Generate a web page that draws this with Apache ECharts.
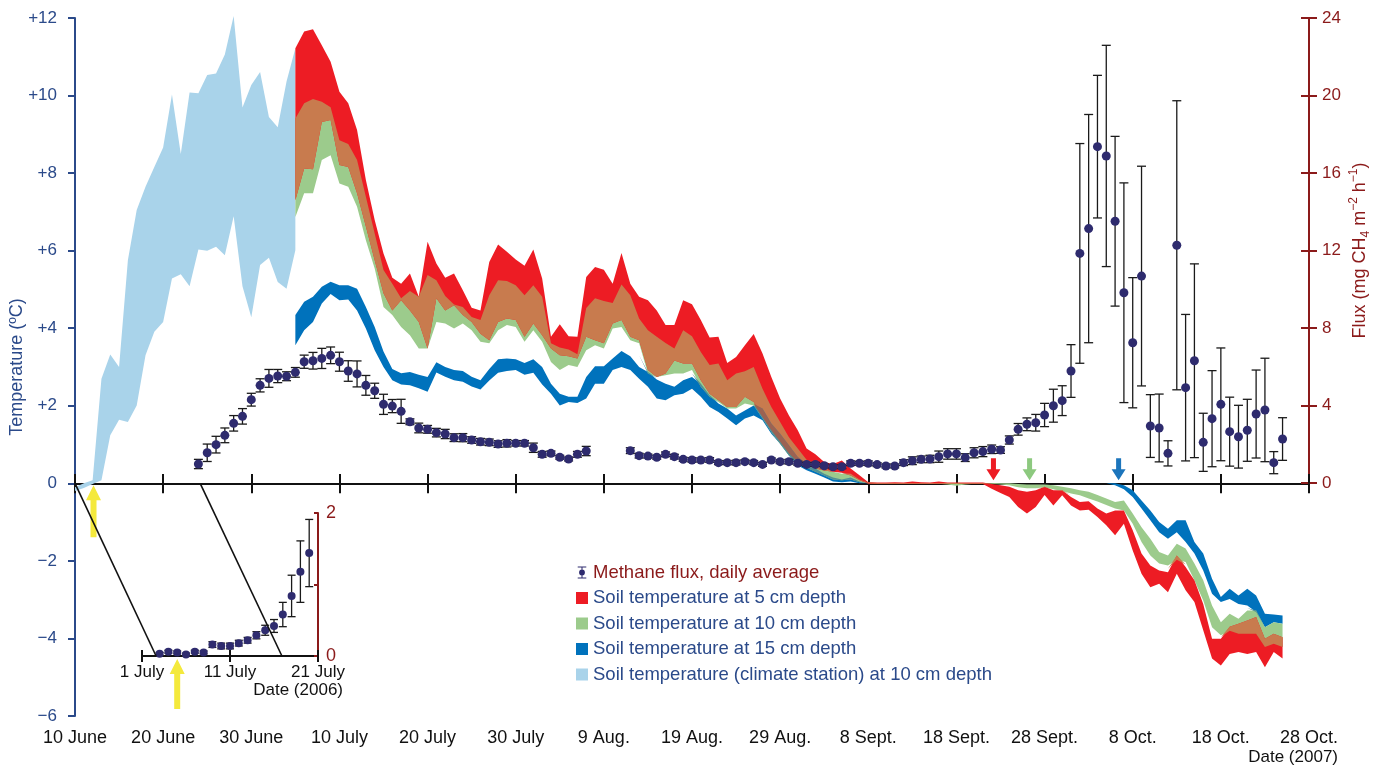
<!DOCTYPE html>
<html>
<head>
<meta charset="utf-8">
<script src="https://cdn.jsdelivr.net/npm/echarts@6/dist/echarts.min.js"></script>
<style>
  html, body { margin: 0; padding: 0; background: #fff; }
  #main { width: 1373px; height: 768px; }
</style>
</head>
<body>
<div id="main"></div>
<script>
// days counted from 10 June 2007
var xTickLabels = ['10 June', '20 June', '30 June', '10 July', '20 July', '30 July', '9 Aug.', '19 Aug.',
  '29 Aug.', '8 Sept.', '18 Sept.', '28 Sept.', '8 Oct.', '18 Oct.', '28 Oct.']

// climate station, 10 cm (days 0..25)
var climateStart = 0
var climateLo = [-0.2, -0.12, -0.02, 0.08, 1.24, 1.64, 1.58, 2.01, 3.30, 3.91, 4.16, 5.28, 5.39, 5.08, 6.03, 6.00,
  6.10, 5.88, 6.89, 5.08, 4.28, 5.63, 5.82, 5.19, 5.02, 6.01]
var climateHi = [-0.1, 0.0, 0.08, 2.70, 3.32, 3.00, 5.75, 7.05, 7.65, 8.16, 8.66, 10.03, 8.49, 10.08, 10.06, 10.53,
  10.57, 11.06, 12.05, 9.69, 10.27, 10.61, 9.45, 9.18, 10.36, 11.22]

// soil temperature bands (days 25..137)
var bandStart = 25
var red5Hi = [11.22, 11.65, 11.71, 11.30, 10.87, 10.10, 9.80, 9.11, 7.82, 6.79,
  5.93, 5.30, 5.15, 5.41, 4.81, 6.23, 5.67, 5.30, 5.41, 4.98,
  4.53, 4.46, 5.71, 6.16, 5.97, 5.77, 5.61, 6.03, 5.28, 3.78,
  4.10, 3.79, 3.78, 5.32, 5.58, 5.51, 5.15, 5.94, 5.15, 4.81,
  4.72, 4.46, 4.08, 4.08, 4.72, 4.62, 4.21, 3.76, 3.78, 3.10,
  3.26, 3.56, 3.85, 3.35, 2.74, 2.19, 1.75, 1.37, 0.90, 0.75,
  0.55, 0.50, 0.59, 0.38, 0.21, 0.03, 0.02, 0.02, 0.03, 0.02,
  0.05, 0.03, 0.02, 0.05, 0.02, 0.02, 0.02, 0.02, 0.02, -0.02,
  -0.05, -0.09, -0.18, -0.22, -0.18, -0.09, -0.18, -0.18, -0.35, -0.48,
  -0.46, -0.65, -0.78, -0.70, -0.70, -1.21, -1.81, -2.12, -2.25, -2.29,
  -1.86, -2.16, -2.50, -3.11, -4.01, -4.01, -3.70, -3.62, -3.54, -3.45,
  -4.01, -3.88, -3.97]
var red5Lo = [7.30, 8.12, 8.10, 9.32, 9.37, 8.21, 8.16, 7.48, 6.62, 5.75,
  4.90, 4.46, 4.72, 4.46, 4.16, 3.48, 4.77, 4.46, 4.59, 4.34,
  4.16, 3.86, 3.69, 4.16, 4.25, 4.21, 3.78, 4.12, 3.82, 3.48,
  3.30, 3.28, 3.22, 3.78, 3.69, 3.61, 4.12, 4.21, 3.78, 3.69,
  2.92, 2.74, 2.83, 3.17, 3.09, 3.09, 2.66, 2.31, 2.14, 1.97,
  1.97, 2.23, 2.10, 1.71, 1.37, 1.07, 0.77, 0.55, 0.46, 0.38,
  0.33, 0.30, 0.27, 0.20, 0.08, -0.01, -0.02, -0.02, -0.02, -0.02,
  -0.02, -0.02, -0.02, -0.02, -0.02, -0.02, -0.02, -0.02, -0.02, -0.14,
  -0.25, -0.35, -0.61, -0.78, -0.61, -0.30, -0.57, -0.31, -0.57, -0.70,
  -0.68, -0.87, -1.08, -1.34, -1.04, -1.73, -2.33, -2.68, -2.59, -2.81,
  -2.33, -2.76, -3.06, -3.79, -4.52, -4.70, -4.40, -4.35, -4.40, -4.35,
  -4.74, -4.35, -4.52]
var green10Hi = [9.41, 9.80, 9.91, 9.84, 9.70, 8.85, 8.75, 8.34, 7.39, 6.44,
  5.50, 5.15, 4.77, 4.96, 4.81, 5.37, 5.24, 4.83, 4.61, 4.55,
  4.29, 4.21, 4.85, 5.24, 5.22, 5.11, 4.85, 5.11, 4.81, 3.61,
  3.50, 3.45, 3.33, 4.52, 4.77, 4.70, 4.65, 5.13, 4.85, 4.25,
  3.95, 3.78, 3.62, 3.48, 3.95, 3.79, 3.39, 3.05, 3.09, 2.66,
  2.83, 2.89, 3.00, 2.44, 1.97, 1.58, 1.19, 0.90, 0.61, 0.51,
  0.40, 0.30, 0.25, 0.25, 0.10, 0.02, 0.01, 0.01, 0.01, 0.01,
  0.01, 0.01, 0.01, 0.01, 0.01, 0.01, 0.0, 0.01, 0.01, 0.01,
  0.0, 0.0, -0.02, -0.03, -0.03, -0.03, -0.05, -0.09, -0.13, -0.18,
  -0.22, -0.30, -0.39, -0.48, -0.44, -0.78, -1.13, -1.43, -1.77, -1.86,
  -1.56, -1.68, -2.07, -2.50, -3.15, -3.58, -3.36, -3.49, -3.28, -3.28,
  -3.71, -3.58, -3.62]
var green10Lo = [6.87, 7.48, 7.48, 8.34, 8.46, 7.73, 7.65, 7.13, 6.27, 5.54,
  4.55, 4.34, 4.03, 3.82, 3.48, 3.48, 4.16, 4.12, 3.99, 4.12,
  3.95, 3.65, 3.61, 3.95, 4.08, 4.03, 3.65, 3.95, 3.65, 3.13,
  2.92, 3.05, 3.00, 3.43, 3.56, 3.48, 3.99, 4.03, 3.69, 3.61,
  2.83, 2.74, 2.79, 2.83, 2.83, 2.92, 2.49, 2.23, 2.10, 1.93,
  1.93, 2.06, 2.01, 1.67, 1.32, 1.02, 0.72, 0.51, 0.40, 0.30,
  0.20, 0.10, 0.08, 0.10, 0.03, 0.0, -0.01, -0.01, -0.01, -0.01,
  -0.01, -0.01, -0.01, -0.01, -0.03, -0.06, -0.03, -0.01, -0.01, -0.01,
  -0.03, -0.05, -0.10, -0.13, -0.13, -0.10, -0.15, -0.20, -0.26, -0.31,
  -0.39, -0.47, -0.56, -0.65, -0.70, -1.04, -1.51, -1.86, -2.07, -2.12,
  -1.97, -2.03, -2.50, -3.02, -3.71, -3.92, -3.80, -3.88, -3.88, -3.88,
  -4.22, -4.14, -4.22]
var blue15Hi = [4.34, 4.68, 4.81, 5.07, 5.20, 5.11, 5.11, 5.02, 4.55, 4.03,
  3.40, 2.95, 2.84, 2.87, 2.80, 2.74, 3.12, 3.00, 2.92, 2.90,
  2.75, 2.66, 2.95, 3.20, 3.22, 3.20, 3.10, 3.20, 3.00, 2.57,
  2.31, 2.23, 2.23, 2.74, 3.02, 3.02, 3.22, 3.41, 3.28, 3.00,
  2.87, 2.68, 2.57, 2.49, 2.66, 2.74, 2.57, 2.27, 2.06, 1.93,
  1.75, 1.88, 2.01, 1.93, 1.54, 1.28, 0.98, 0.68, 0.51, 0.38,
  0.25, 0.15, 0.10, 0.15, 0.05, 0, 0, 0, 0, 0,
  0, 0, 0, 0, 0, 0, 0, 0, 0, 0,
  0, 0, 0, 0, 0, 0, 0, 0, 0, 0,
  0, 0, 0, 0, -0.05, -0.18, -0.44, -0.70, -1.00, -1.17,
  -0.95, -0.95, -1.51, -1.81, -2.46, -2.93, -2.72, -2.89, -2.72, -2.89,
  -3.36, -3.38, -3.41]
var blue15Lo = [3.56, 3.95, 4.16, 4.64, 4.88, 4.72, 4.74, 4.46, 3.99, 3.43,
  3.00, 2.66, 2.55, 2.53, 2.45, 2.36, 2.86, 2.75, 2.66, 2.62,
  2.50, 2.42, 2.65, 2.85, 2.90, 2.92, 2.80, 2.85, 2.55, 2.31,
  2.01, 2.10, 2.07, 2.19, 2.57, 2.57, 2.92, 3.00, 2.92, 2.70,
  2.49, 2.19, 2.14, 2.27, 2.31, 2.44, 2.23, 1.97, 1.84, 1.67,
  1.50, 1.67, 1.75, 1.63, 1.28, 1.02, 0.72, 0.46, 0.34, 0.25,
  0.15, 0.05, 0.03, 0.05, 0.0, 0, 0, 0, 0, 0,
  0, 0, 0, 0, 0, 0, 0, 0, 0, 0,
  0, 0, 0, 0, 0, 0, 0, 0, 0, 0,
  0, 0, 0, -0.05, -0.15, -0.35, -0.65, -0.95, -1.26, -1.43,
  -1.26, -1.51, -1.81, -2.25, -2.85, -3.06, -2.98, -3.11, -3.15, -3.32,
  -3.71, -3.58, -3.62]

// methane flux, daily average and error (days 14..137), mg CH4 m-2 h-1
var fluxStart = 14
var fluxValues = [0.98, 1.56, 1.98, 2.46, 3.08, 3.44, 4.30, 5.04, 5.40, 5.52,
  5.51, 5.71, 6.26, 6.31, 6.43, 6.59, 6.26, 5.78, 5.63, 5.04,
  4.76, 4.06, 3.97, 3.70, 3.16, 2.84, 2.77, 2.60, 2.53, 2.34,
  2.34, 2.22, 2.13, 2.10, 2.01, 2.05, 2.05, 2.05, 1.82, 1.48,
  1.53, 1.33, 1.24, 1.48, 1.65, null, null, null, null, 1.67,
  1.41, 1.39, 1.33, 1.48, 1.36, 1.22, 1.19, 1.19, 1.19, 1.05,
  1.05, 1.05, 1.10, 1.05, 0.96, 1.19, 1.10, 1.10, 1.02, 0.96,
  0.96, 0.89, 0.84, 0.84, 1.02, 1.02, 1.02, 0.95, 0.88, 0.88,
  1.05, 1.15, 1.22, 1.24, 1.36, 1.50, 1.50, 1.31, 1.56, 1.62,
  1.74, 1.70, 2.22, 2.77, 3.03, 3.11, 3.51, 3.99, 4.25, 5.78,
  11.85, 13.13, 17.36, 16.88, 13.51, 9.82, 7.24, 10.68, 2.94, 2.84,
  1.53, 12.27, 4.92, 6.31, 2.10, 3.32, 4.06, 2.65, 2.39, 2.72,
  3.56, 3.77, 1.05, 2.27]
var fluxErr = [0.24, 0.45, 0.43, 0.38, 0.40, 0.40, 0.33, 0.34, 0.46, 0.34,
  0.23, 0.25, 0.34, 0.43, 0.52, 0.43, 0.49, 0.53, 0.67, 0.51,
  0.39, 0.52, 0.34, 0.62, 0.15, 0.25, 0.20, 0.22, 0.24, 0.20,
  0.21, 0.17, 0.17, 0.17, 0.17, 0.19, 0.14, 0.14, 0.24, 0.15,
  0.12, 0.10, 0.10, 0.15, 0.24, null, null, null, null, 0.15,
  0.12, 0.10, 0.10, 0.12, 0.12, 0.10, 0.12, 0.10, 0.12, 0.10,
  0.10, 0.12, 0.10, 0.10, 0.10, 0.10, 0.10, 0.12, 0.10, 0.10,
  0.10, 0.10, 0.10, 0.10, 0.12, 0.10, 0.12, 0.10, 0.10, 0.10,
  0.15, 0.20, 0.17, 0.19, 0.29, 0.27, 0.27, 0.20, 0.26, 0.26,
  0.22, 0.17, 0.21, 0.30, 0.33, 0.43, 0.60, 0.85, 0.77, 1.36,
  5.67, 5.89, 3.68, 5.71, 4.38, 5.67, 3.36, 5.67, 1.62, 1.75,
  0.65, 7.46, 3.78, 5.00, 1.50, 2.48, 2.91, 1.78, 1.62, 1.60,
  2.27, 2.67, 0.57, 1.10]

// inset: 2006, days counted from 1 July
var insetTickLabels = ['1 July', '11 July', '21 July']
var insetStart = 2
var insetFlux = [0.03, 0.06, 0.05, 0.02, 0.06, 0.05, 0.16, 0.14, 0.14, 0.18, 0.22, 0.29, 0.36, 0.42, 0.58, 0.84, 1.18, 1.44]
var insetErr = [0.02, 0.02, 0.02, 0.02, 0.02, 0.02, 0.04, 0.04, 0.04, 0.04, 0.04, 0.05, 0.07, 0.09, 0.17, 0.29, 0.43, 0.47]

// arrows (thaw / freeze markers)
var yellowArrowDay = 2.1
var insetArrowDay = 4
var freezeArrowDays = [104.2, 108.3, 118.4]
// connector lines main <-> inset
var linkMainDays = [0, 14.2]
var linkInsetDays = [1.6, 15.9]

var BLUE_TXT = '#2b4a8a'
var DARK_RED = '#8b1a1a'
var FONT = '"Liberation Sans", Arial, sans-serif'
var C_RED = '#ed1c24', C_GREEN = '#9ccb8c', C_BLUE = '#0072bc', C_LIGHT = '#a9d3ea'
var C_BROWN = '#c87b4e', C_RB = '#9c6252', C_GB = '#4f9096'
var DOT = '#2e2b6e'
var freezeColors = [C_RED, '#8dc97f', '#1c75bc']

function overlap(loA, hiA, loB, hiB) {
  var lo = [], hi = []
  for (var i = 0; i < loA.length; i++) {
    var l = Math.max(loA[i], loB[i]), h = Math.min(hiA[i], hiB[i])
    if (h < l) { l = h = (l + h) / 2 }
    lo.push(l); hi.push(h)
  }
  return { lo: lo, hi: hi }
}

function band(name, start, lo, hi, color, z) {
  return {
    type: 'custom', name: name, xAxisIndex: 0, yAxisIndex: 0, z: z, silent: true,
    itemStyle: { color: color },
    data: lo.map(function (v, i) { return [start + i, v, hi[i]] }),
    encode: { x: 0, y: [1, 2] },
    renderItem: function (params, api) {
      if (params.dataIndex !== 0) return null
      var pts = []
      for (var i = 0; i < hi.length; i++) pts.push(api.coord([start + i, hi[i]]))
      for (var j = lo.length - 1; j >= 0; j--) pts.push(api.coord([start + j, lo[j]]))
      return { type: 'polygon', shape: { points: pts }, style: { fill: color } }
    }
  }
}

function errorBars(xi, yi, start, vals, errs, cap) {
  var data = []
  vals.forEach(function (v, i) { if (v != null) data.push([start + i, v, errs[i]]) })
  return {
    type: 'custom', xAxisIndex: xi, yAxisIndex: yi, z: 4, silent: true,
    data: data,
    encode: { x: 0, y: 1 },
    renderItem: function (params, api) {
      var x = api.value(0), v = api.value(1), e = api.value(2)
      var t = api.coord([x, v + e]), b = api.coord([x, v - e])
      var st = { stroke: '#1a1a1a', lineWidth: 1.3 }
      return {
        type: 'group', children: [
          { type: 'line', shape: { x1: t[0], y1: t[1], x2: b[0], y2: b[1] }, style: st },
          { type: 'line', shape: { x1: t[0] - cap, y1: t[1], x2: t[0] + cap, y2: t[1] }, style: st },
          { type: 'line', shape: { x1: b[0] - cap, y1: b[1], x2: b[0] + cap, y2: b[1] }, style: st }
        ]
      }
    }
  }
}

function dots(name, xi, yi, start, vals, size) {
  var data = []
  vals.forEach(function (v, i) { if (v != null) data.push([start + i, v]) })
  return {
    type: 'scatter', name: name, xAxisIndex: xi, yAxisIndex: yi, z: 5, silent: true,
    symbolSize: size, itemStyle: { color: DOT, opacity: 1 }, data: data
  }
}

// arrow: tip at data point, dir -1 = points up (tail below), 1 = points down (tail above)
function arrows(xi, yi, days, colors, dir, offset, len, hw, hl, sw) {
  return {
    type: 'custom', xAxisIndex: xi, yAxisIndex: yi, z: 6, silent: true,
    data: days.map(function (d, i) { return [d, 0, i] }),
    encode: { x: 0, y: 1 },
    renderItem: function (params, api) {
      var p = api.coord([api.value(0), api.value(1)])
      var x = p[0], y = p[1] + offset
      var s = -dir
      var pts = [[x, y], [x + hw / 2, y + s * hl], [x + sw / 2, y + s * hl], [x + sw / 2, y + s * len],
        [x - sw / 2, y + s * len], [x - sw / 2, y + s * hl], [x - hw / 2, y + s * hl]]
      return { type: 'polygon', shape: { points: pts }, style: { fill: colors[api.value(2)] } }
    }
  }
}

var rg = overlap(red5Lo, red5Hi, green10Lo, green10Hi)
var gb = overlap(green10Lo, green10Hi, blue15Lo, blue15Hi)
var rb = overlap(red5Lo, red5Hi, blue15Lo, blue15Hi)

var chart = echarts.init(document.getElementById('main'))

var methaneIcon = 'path://M0,0H10V1.2H0Z M4.4,1.2H5.6V12.8H4.4Z M0,12.8H10V14H0Z M5,3.6A3.4,3.4 0 1 1 4.99,3.6Z'

var option = {
  animation: false,
  backgroundColor: '#fff',
  textStyle: { fontFamily: FONT },
  grid: [
    { left: 75, right: 64, top: 18, bottom: 52, containLabel: false, outerBoundsMode: 'none' },
    { left: 75, right: 64, top: 18, bottom: 285, containLabel: false, outerBoundsMode: 'none' },
    { left: 142, right: 1055, top: 513, bottom: 112, containLabel: false, outerBoundsMode: 'none' }
  ],
  xAxis: [
    { gridIndex: 0, type: 'value', min: 0, max: 140, interval: 10, position: 'bottom',
      axisLine: { onZero: true, lineStyle: { color: '#111', width: 2 } },
      axisTick: { inside: false, length: 10, lineStyle: { color: '#111', width: 2 } },
      axisLabel: { show: false }, splitLine: { show: false } },
    { gridIndex: 0, type: 'value', min: 0, max: 140, interval: 10, position: 'bottom',
      axisLine: { show: false, onZero: false }, axisTick: { show: false }, splitLine: { show: false },
      axisLabel: { margin: 13, fontSize: 18, color: '#111', fontFamily: FONT,
        formatter: function (v) { return xTickLabels[Math.round(v / 10)] } } },
    { gridIndex: 1, type: 'value', min: 0, max: 140, interval: 10, position: 'bottom',
      axisLine: { show: false, onZero: false },
      axisTick: { inside: true, length: 9, lineStyle: { color: '#111', width: 2 } },
      axisLabel: { show: false }, splitLine: { show: false } },
    { gridIndex: 2, type: 'value', min: 0, max: 20, interval: 10, position: 'bottom',
      axisLine: { onZero: false, lineStyle: { color: '#111', width: 2 } },
      axisTick: { length: 6, lineStyle: { color: '#111', width: 2 } },
      axisLabel: { margin: 8, fontSize: 17, color: '#111', fontFamily: FONT,
        formatter: function (v) { return insetTickLabels[Math.round(v / 10)] } },
      splitLine: { show: false } },
    { gridIndex: 2, type: 'value', min: 0, max: 20, interval: 10, position: 'bottom',
      axisLine: { show: false, onZero: false },
      axisTick: { inside: true, length: 6, lineStyle: { color: '#111', width: 2 } },
      axisLabel: { show: false }, splitLine: { show: false } }
  ],
  yAxis: [
    { gridIndex: 0, type: 'value', min: -6, max: 12, interval: 2, position: 'left',
      name: 'Temperature (ºC)', nameLocation: 'middle', nameGap: 49, nameRotate: 90,
      nameMoveOverlap: false,
      nameTextStyle: { color: BLUE_TXT, fontSize: 18, fontFamily: FONT },
      axisLine: { show: true, onZero: false, lineStyle: { color: BLUE_TXT, width: 2 } },
      axisTick: { show: true, length: 7, lineStyle: { color: BLUE_TXT, width: 2 } },
      axisLabel: { margin: 18, fontSize: 17, color: BLUE_TXT, fontFamily: FONT,
        formatter: function (v) { return v > 0 ? '+' + v : (v < 0 ? '\u2212' + (-v) : '0') } },
      splitLine: { show: false } },
    { gridIndex: 1, type: 'value', min: 0, max: 24, interval: 4, position: 'right',
      name: '{a|Flux (mg CH}{s|4}{a| m}{p|\u22122}{a| h}{p|\u22121}{a|)}',
      nameLocation: 'middle', nameGap: 39, nameRotate: 90, nameMoveOverlap: false,
      nameTextStyle: { color: DARK_RED, fontFamily: FONT,
        rich: {
          a: { fontSize: 18, color: DARK_RED, fontFamily: FONT, lineHeight: 24, verticalAlign: 'middle' },
          s: { fontSize: 12, color: DARK_RED, fontFamily: FONT, lineHeight: 12, verticalAlign: 'bottom' },
          p: { fontSize: 12, color: DARK_RED, fontFamily: FONT, lineHeight: 12, verticalAlign: 'top' }
        } },
      axisLine: { show: true, onZero: false, lineStyle: { color: DARK_RED, width: 2 } },
      axisTick: { show: true, length: 8, lineStyle: { color: DARK_RED, width: 2 } },
      axisLabel: { margin: 13, fontSize: 17, color: DARK_RED, fontFamily: FONT },
      splitLine: { show: false } },
    { gridIndex: 1, type: 'value', min: 0, max: 24, interval: 4, position: 'right',
      axisLine: { show: false, onZero: false },
      axisTick: { show: true, inside: true, length: 8, lineStyle: { color: DARK_RED, width: 2 } },
      axisLabel: { show: false }, splitLine: { show: false } },
    { gridIndex: 2, type: 'value', min: 0, max: 2, interval: 1, position: 'right',
      axisLine: { show: true, onZero: false, lineStyle: { color: DARK_RED, width: 2 } },
      axisTick: { show: true, inside: true, length: 4, lineStyle: { color: DARK_RED, width: 2 } },
      axisLabel: { margin: 8, fontSize: 18, color: DARK_RED, fontFamily: FONT,
        formatter: function (v) { return v === 1 ? '' : String(v) } },
      splitLine: { show: false } }
  ],
  legend: {
    orient: 'vertical', left: 571, top: 558, itemGap: 6.5, itemWidth: 12, itemHeight: 12,
    selectedMode: false,
    textStyle: { color: BLUE_TXT, fontSize: 18.5, fontFamily: FONT },
    data: [
      { name: 'Methane flux, daily average', icon: methaneIcon, textStyle: { color: DARK_RED } },
      { name: 'Soil temperature at 5 cm depth', icon: 'rect' },
      { name: 'Soil temperature at 10 cm depth', icon: 'rect' },
      { name: 'Soil temperature at 15 cm depth', icon: 'rect' },
      { name: 'Soil temperature (climate station) at 10 cm depth', icon: 'rect' }
    ]
  },
  series: [
    band('Soil temperature (climate station) at 10 cm depth', climateStart, climateLo, climateHi, C_LIGHT, 1),
    band('Soil temperature at 15 cm depth', bandStart, blue15Lo, blue15Hi, C_BLUE, 2),
    band('Soil temperature at 10 cm depth', bandStart, green10Lo, green10Hi, C_GREEN, 2),
    band('Soil temperature at 5 cm depth', bandStart, red5Lo, red5Hi, C_RED, 2),
    band('overlap 5/10', bandStart, rg.lo, rg.hi, C_BROWN, 3),
    band('overlap 10/15', bandStart, gb.lo, gb.hi, C_GB, 3),
    band('overlap 5/15', bandStart, rb.lo, rb.hi, C_RB, 3),
    errorBars(2, 1, fluxStart, fluxValues, fluxErr, 4.5),
    dots('Methane flux, daily average', 2, 1, fluxStart, fluxValues, 9),
    errorBars(3, 3, insetStart, insetFlux, insetErr, 4),
    dots('inset flux', 3, 3, insetStart, insetFlux, 8),
    arrows(0, 0, [yellowArrowDay], ['#f4e93c'], -1, 2, 52, 15, 15, 6),
    arrows(3, 3, [insetArrowDay], ['#f4e93c'], -1, 3, 50, 15, 15, 6),
    arrows(0, 0, freezeArrowDays, freezeColors, 1, -3, 22, 14, 11, 5)
  ]
}

chart.setOption(option)

var lines = linkMainDays.map(function (d, i) {
  var a = chart.convertToPixel({ gridIndex: 0 }, [d, 0])
  var b = chart.convertToPixel({ gridIndex: 2 }, [linkInsetDays[i], 0])
  return { type: 'line', z: 10, shape: { x1: a[0], y1: a[1], x2: b[0], y2: b[1] },
    style: { stroke: '#111', lineWidth: 1.6 } }
})

chart.setOption({
  graphic: lines.concat([
    { type: 'text', right: 35, top: 749, z: 10,
      style: { text: 'Date (2007)', fontSize: 17, fill: '#111', fontFamily: FONT } },
    { type: 'text', right: 1030, top: 682, z: 10,
      style: { text: 'Date (2006)', fontSize: 17, fill: '#111', fontFamily: FONT } }
  ])
})
</script>
</body>
</html>
